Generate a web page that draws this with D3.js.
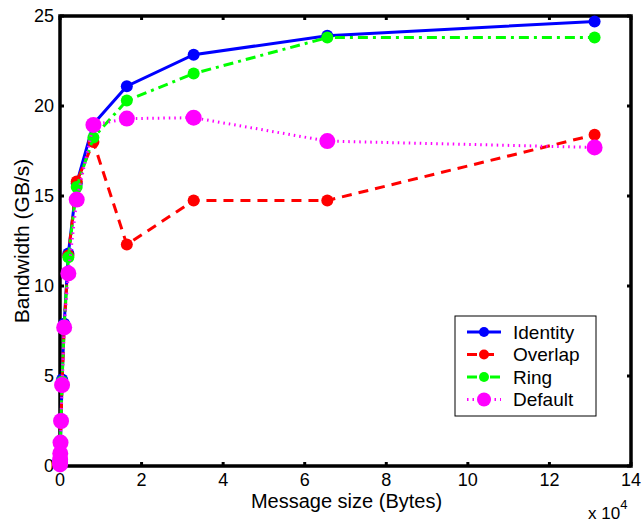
<!DOCTYPE html>
<html>
<head>
<meta charset="utf-8">
<script src="https://cdn.jsdelivr.net/npm/d3@7"></script>
<style>
  body { margin: 0; background: #fff; }
  text { font-family: "Liberation Sans", Arial, sans-serif; fill: #000; }
</style>
</head>
<body>
<svg id="main" width="642" height="523"></svg>
<script>
const margin = { top: 16, right: 11, bottom: 57, left: 60 };
const width = 642 - margin.left - margin.right;
const height = 523 - margin.top - margin.bottom;

// message sizes in bytes
const sizes = [8, 16, 32, 64, 128, 256, 512, 1024, 2048, 4096, 8192, 16384, 32768, 65536, 131072];

const identity = [0.1, 0.2, 0.4, 0.75, 1.4, 2.6, 4.8, 7.9, 11.8, 15.7, 19.0, 21.1, 22.85, 23.9, 24.7];
const overlap = [0.1, 0.2, 0.4, 0.7, 1.3, 2.5, 4.6, 7.7, 11.7, 15.8, 18.0, 12.3, 14.75, 14.75, 18.4];
const ring = [0.1, 0.2, 0.4, 0.7, 1.35, 2.55, 4.7, 7.8, 11.6, 15.5, 18.25, 20.3, 21.8, 23.8, 23.8];
const defaultBw = [0.09, 0.18, 0.35, 0.7, 1.3, 2.5, 4.5, 7.7, 10.7, 14.8, 18.95, 19.3, 19.35, 18.05, 17.7];

const xTicks = [0, 2, 4, 6, 8, 10, 12, 14];   // x 10^4
const yTicks = [0, 5, 10, 15, 20, 25];

const series = [
    { name: 'Identity', values: identity, color: '#0000ff', dash: null, r: 6 },
    { name: 'Overlap', values: overlap, color: '#ff0000', dash: '10,7', r: 6 },
    { name: 'Ring', values: ring, color: '#00ff00', dash: '10,5,3,5', r: 6 },
    { name: 'Default', values: defaultBw, color: '#ff00ff', dash: '1.5,4', r: 8 }
];

const svg = d3.select('#main');
const g = svg.append('g').attr('transform', `translate(${margin.left},${margin.top})`);

const xScale = d3.scaleLinear().domain([0, 140000]).range([0, width]);
const yScale = d3.scaleLinear().domain([0, 25]).range([height, 0]);

// axes box
g.append('rect')
    .attr('width', width).attr('height', height)
    .attr('fill', 'none').attr('stroke', '#000').attr('stroke-width', 3.5);

// ticks (inward, all four sides)
const tickLen = 4;
xTicks.forEach(t => {
    const x = xScale(t * 10000);
    g.append('line').attr('x1', x).attr('x2', x).attr('y1', height).attr('y2', height - tickLen)
        .attr('stroke', '#000').attr('stroke-width', 3);
    g.append('line').attr('x1', x).attr('x2', x).attr('y1', 0).attr('y2', tickLen)
        .attr('stroke', '#000').attr('stroke-width', 3);
    g.append('text').attr('x', x).attr('y', height + 20)
        .attr('text-anchor', 'middle').style('font-size', '18px').text(t);
});
yTicks.forEach(t => {
    const y = yScale(t);
    g.append('line').attr('x1', 0).attr('x2', tickLen).attr('y1', y).attr('y2', y)
        .attr('stroke', '#000').attr('stroke-width', 3);
    g.append('line').attr('x1', width).attr('x2', width - tickLen).attr('y1', y).attr('y2', y)
        .attr('stroke', '#000').attr('stroke-width', 3);
    g.append('text').attr('x', -6).attr('y', y).attr('dy', '0.36em')
        .attr('text-anchor', 'end').style('font-size', '18px').text(t);
});

// axis labels
g.append('text').attr('x', width / 2 + 1).attr('y', height + 42)
    .attr('text-anchor', 'middle').style('font-size', '20px').text('Message size (Bytes)');
g.append('text')
    .attr('transform', `translate(-31,${height / 2}) rotate(-90)`)
    .attr('text-anchor', 'middle').style('font-size', '21px').text('Bandwidth (GB/s)');
const mult = g.append('text').attr('x', width - 43).attr('y', height + 53).style('font-size', '17px');
mult.append('tspan').text('x 10');
mult.append('tspan').attr('dy', -10).style('font-size', '13px').text('4');

// lines + markers
const line = d3.line()
    .x((d, i) => xScale(sizes[i]))
    .y(d => yScale(d));

series.forEach(s => {
    g.append('path')
        .datum(s.values)
        .attr('d', line)
        .attr('fill', 'none')
        .attr('stroke', s.color)
        .attr('stroke-width', 3)
        .attr('stroke-dasharray', s.dash);
    g.append('g')
        .selectAll('circle')
        .data(s.values)
        .enter()
        .append('circle')
        .attr('cx', (d, i) => xScale(sizes[i]))
        .attr('cy', d => yScale(d))
        .attr('r', s.r)
        .attr('fill', s.color);
});

// legend
const legend = g.append('g').attr('transform', `translate(${455 - margin.left},${316 - margin.top})`);
legend.append('rect').attr('width', 141).attr('height', 100)
    .attr('fill', '#fff').attr('stroke', '#000').attr('stroke-width', 1);
series.forEach((s, i) => {
    const y = 16 + i * 22.5;
    legend.append('line').attr('x1', 12).attr('x2', 46).attr('y1', y).attr('y2', y)
        .attr('stroke', s.color).attr('stroke-width', 3).attr('stroke-dasharray', s.dash);
    legend.append('circle').attr('cx', 29).attr('cy', y).attr('r', s.r - 1).attr('fill', s.color);
    legend.append('text').attr('x', 58).attr('y', y).attr('dy', '0.36em')
        .style('font-size', '19px').text(s.name);
});
</script>
</body>
</html>
